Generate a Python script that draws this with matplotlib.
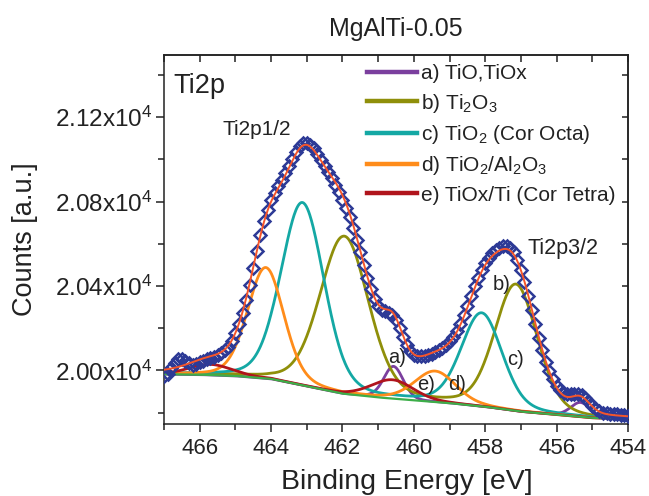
import numpy as np
import matplotlib
matplotlib.use('Agg')
import matplotlib.pyplot as plt
from matplotlib.ticker import FuncFormatter

plt.rcParams['font.family'] = ['Liberation Sans', 'DejaVu Sans']
plt.rcParams['mathtext.fontset'] = 'custom'
plt.rcParams['mathtext.rm'] = 'Liberation Sans'
plt.rcParams['mathtext.it'] = 'Liberation Sans:italic'
plt.rcParams['mathtext.bf'] = 'Liberation Sans:bold'

# ---- data ----
# measured spectrum (open diamonds), 467.0 -> 454.0 eV in 0.1 eV steps
meas_start, meas_stop = 467.0, 454.0
meas_counts = [
    19975, 19985, 20010, 20035, 20052, 20055, 20045, 20033, 20026, 20030,
    20038, 20045, 20052, 20058, 20063, 20072, 20082, 20095, 20113, 20140,
    20176, 20222, 20270, 20335, 20405, 20486, 20568, 20642, 20708, 20760,
    20806, 20842, 20875, 20904, 20935, 20968, 21003, 21036, 21062, 21078,
    21080, 21070, 21052, 21026, 20998, 20970, 20940, 20910, 20880, 20846,
    20810, 20770, 20725, 20674, 20618, 20560, 20500, 20440, 20385, 20340,
    20305, 20288, 20280, 20274, 20262, 20238, 20200, 20160, 20122, 20093,
    20075, 20068, 20066, 20068, 20072, 20078, 20085, 20095, 20106, 20120,
    20138, 20160, 20188, 20222, 20262, 20305, 20352, 20398, 20440, 20478,
    20510, 20535, 20555, 20570, 20580, 20588, 20590, 20582, 20560, 20525,
    20478, 20420, 20355, 20288, 20220, 20155, 20095, 20042, 19996, 19958,
    19928, 19908, 19895, 19888, 19888, 19889, 19888, 19882, 19868, 19850,
    19832, 19818, 19806, 19800, 19797, 19795, 19794, 19792, 19790, 19788,
    19785]

# Shirley-type background read at 1 eV intervals
bg_energy = [467.0, 466.0, 465.0, 464.0, 463.0, 462.0, 461.0, 460.0, 459.0, 458.0, 457.0, 456.0, 455.0, 454.0]
bg_counts = [19982, 19980, 19974, 19960, 19925, 19890, 19872, 19858, 19845, 19828, 19805, 19790, 19775, 19770]

# fitted doublet components: centre (eV), height above background, FWHM (eV)
comp_labels = ['a) TiO,TiOx', 'b) Ti$_2$O$_3$', 'c) TiO$_2$ (Cor Octa)',
               'd) TiO$_2$/Al$_2$O$_3$', 'e) TiOx/Ti (Cor Tetra)']
comp_centers = [[460.57, 455.33], [461.95, 457.14], [463.12, 458.10], [464.15, 459.40], [465.70, 460.60]]
comp_heights = [[153, 68], [745, 597], [865, 440], [525, 145], [50, 89]]
comp_fwhm = [[0.65, 0.65], [1.6, 1.4], [1.42, 1.35], [1.2, 1.35], [1.4, 1.4]]
gl_mix = 0.2

x_ticks = [466, 464, 462, 460, 458, 456, 454]
x_minor = [467, 465, 463, 461, 459, 457, 455]
y_ticks = [20000, 20400, 20800, 21200]
y_minor = [19800, 20200, 20600, 21000, 21400]

meas_energy = np.linspace(meas_start, meas_stop, len(meas_counts))


def gl(x, c, h, w):
    t = ((x - c) / w) ** 2
    return h * ((1 - gl_mix) * np.exp(-4 * np.log(2) * t) + gl_mix / (1 + 4 * t))


def model(x):
    b = np.interp(x, bg_energy[::-1], bg_counts[::-1])
    tot = b.copy()
    comps = []
    for cs, hs, ws in zip(comp_centers, comp_heights, comp_fwhm):
        s = np.zeros_like(x, dtype=float)
        for c, h, w in zip(cs, hs, ws):
            s += gl(x, c, h, w)
        comps.append(b + s)
        tot += s
    return b, comps, tot


colors = ['#7B3F9E', '#8F8F0A', '#14A8A4', '#FF8C1A', '#B0141C']
ink = '#222222'

fig = plt.figure(figsize=(6.49, 4.96), dpi=100)
ax = fig.add_axes([0.2527, 0.1452, 0.7149, 0.7439])
xf = np.linspace(467, 454, 800)
b, comps, tot = model(xf)
handles = []
for cc, col, lab in zip(comps, colors, comp_labels):
    h, = ax.plot(xf, cc, color=col, lw=2.0, label=lab, zorder=2)
    handles.append(h)
ax.plot(xf, b, color='#3DAE49', lw=1.6, zorder=3)
ax.plot(meas_energy, meas_counts, ls='none', marker='D', ms=6, mfc='none', mec='#2D3A96', mew=1.8, zorder=4)
ax.plot(xf, tot, color='#F5552A', lw=1.4, zorder=5)

ax.set_xlim(467, 454)
ax.set_ylim(19746, 21495)

ax.set_xticks(x_ticks)
ax.set_xticks(x_minor, minor=True)
ax.set_yticks(y_ticks)
ax.set_yticks(y_minor, minor=True)
ax.yaxis.set_major_formatter(FuncFormatter(lambda v, p: '%.2fx10$^{4}$' % (v / 1e4)))
ax.tick_params(axis='both', which='both', direction='out', width=1.1, color=ink, labelcolor=ink)
ax.tick_params(axis='x', labelsize=16, pad=4)
ax.tick_params(axis='y', labelsize=17.5, pad=2)
ax.tick_params(axis='both', which='major', length=6)
ax.tick_params(axis='both', which='minor', length=4)
for sp in ax.spines.values():
    sp.set_linewidth(1.1)
    sp.set_color(ink)

secx = ax.secondary_xaxis('top')
secx.set_xticks(x_ticks)
secx.set_xticks(x_minor, minor=True)
secx.tick_params(axis='x', which='both', direction='in', labeltop=False, length=5, width=1.1, color=ink)
secy = ax.secondary_yaxis('right')
secy.set_yticks(y_ticks)
secy.set_yticks(y_minor, minor=True)
secy.tick_params(axis='y', which='both', direction='in', labelright=False, length=4, width=1.1, color=ink)
for s in (secx, secy):
    for sp in s.spines.values():
        sp.set_linewidth(1.1)
        sp.set_color(ink)

ax.set_xlabel('Binding Energy [eV]', fontsize=20.5, color=ink)
ax.xaxis.set_label_coords(0.524, -0.122)
ax.set_ylabel('Counts [a.u.]', fontsize=19.5, color=ink)
ax.yaxis.set_label_coords(-0.272, 0.5)
ax.set_title('MgAlTi-0.05', fontsize=18, pad=14, color=ink)

ax.text(466.75, 21317, 'Ti2p', fontsize=19.5, color=ink)
ax.text(465.35, 21118, 'Ti2p1/2', fontsize=15, color=ink)
ax.text(456.82, 20552, 'Ti2p3/2', fontsize=15.5, color=ink)
ax.text(460.72, 20033, 'a)', fontsize=14.5, color=ink)
ax.text(457.80, 20380, 'b)', fontsize=14.5, color=ink)
ax.text(457.38, 20024, 'c)', fontsize=14.5, color=ink)
ax.text(459.04, 19905, 'd)', fontsize=14.5, color=ink)
ax.text(459.90, 19905, 'e)', fontsize=14.5, color=ink)

leg = ax.legend(handles=handles, loc='upper left', bbox_to_anchor=(0.4375, 0.975), frameon=False,
                fontsize=15, handlelength=2.4, handletextpad=0.19, labelspacing=0.4,
                borderpad=0, borderaxespad=0)
for l in leg.get_lines():
    l.set_linewidth(3.2)
for t in leg.get_texts():
    t.set_color(ink)

fig.savefig('out.png', dpi=100)
